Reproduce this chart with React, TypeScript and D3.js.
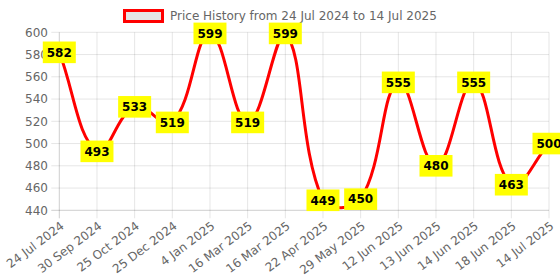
import React from 'react';
import * as d3 from 'd3';

const dates = [
  '24 Jul 2024', '30 Sep 2024', '25 Oct 2024', '25 Dec 2024', '4 Jan 2025',
  '16 Mar 2025', '16 Mar 2025', '22 Apr 2025', '29 May 2025', '12 Jun 2025',
  '13 Jun 2025', '14 Jun 2025', '18 Jun 2025', '14 Jul 2025',
];
const prices = [582, 493, 533, 519, 599, 519, 599, 449, 450, 555, 480, 555, 463, 500];
const yTicks = [440, 460, 480, 500, 520, 540, 560, 580, 600];
const legendText = 'Price History from 24 Jul 2024 to 14 Jul 2025';

const W = 560;
const H = 280;
const left = 59.3;
const right = 549;
const top = 32.3;
const bottom = 210.3;
const font = "'DejaVu Sans', sans-serif";
const grid = 'rgba(0,0,0,0.1)';

// chart.js style spline (tension 0.4, control points capped to the area)
function splinePath(pts: { x: number; y: number }[], t = 0.4) {
  const clampX = (v: number) => Math.max(left, Math.min(right, v));
  const clampY = (v: number) => Math.max(top, Math.min(bottom, v));
  const cps = pts.map((p, i) => {
    const prev = pts[i - 1] || p;
    const next = pts[i + 1] || p;
    const d01 = Math.hypot(p.x - prev.x, p.y - prev.y);
    const d12 = Math.hypot(next.x - p.x, next.y - p.y);
    let s01 = d01 / (d01 + d12);
    let s12 = d12 / (d01 + d12);
    if (isNaN(s01)) s01 = 0;
    if (isNaN(s12)) s12 = 0;
    const fa = t * s01;
    const fb = t * s12;
    return {
      c1x: clampX(p.x - fa * (next.x - prev.x)),
      c1y: clampY(p.y - fa * (next.y - prev.y)),
      c2x: clampX(p.x + fb * (next.x - prev.x)),
      c2y: clampY(p.y + fb * (next.y - prev.y)),
    };
  });
  const path = d3.path();
  pts.forEach((p, i) => {
    if (i === 0) path.moveTo(p.x, p.y);
    else {
      const a = cps[i - 1];
      const b = cps[i];
      path.bezierCurveTo(a.c2x, a.c2y, b.c1x, b.c1y, p.x, p.y);
    }
  });
  return path.toString();
}

export default function App() {
  const x = d3.scaleLinear().domain([0, dates.length - 1]).range([left, right]);
  const y = d3.scaleLinear().domain([440, 600]).range([bottom, top]);
  const pts = prices.map((v, i) => ({ x: x(i), y: y(v) }));

  return (
    <svg
      width={W}
      height={H}
      style={{ position: 'absolute', left: 0, top: 0, background: '#fff' }}
      fontFamily={font}
    >
      <defs>
        <clipPath id="area">
          <rect x={left - 1.5} y={top - 1.5} width={right - left + 3} height={bottom - top + 3} />
        </clipPath>
      </defs>

      {/* legend */}
      <rect x={124.5} y={10.5} width={38} height={11} fill="rgba(0,0,0,0.1)" stroke="#ff0000" strokeWidth={3} />
      <text x={170} y={16} dy="0.35em" fontSize={12} fill="#666">{legendText}</text>

      {/* grid */}
      {yTicks.map((t) => (
        <line key={'y' + t} x1={left - 8} x2={right} y1={y(t)} y2={y(t)} stroke={grid} />
      ))}
      {dates.map((_, i) => (
        <line key={'x' + i} x1={x(i)} x2={x(i)} y1={top} y2={bottom + 8} stroke={grid} />
      ))}
      <line x1={left} x2={left} y1={top} y2={bottom + 8} stroke={grid} />
      <line x1={left - 8} x2={right} y1={bottom} y2={bottom} stroke={grid} />

      {/* y ticks */}
      {yTicks.map((t) => (
        <text key={'yl' + t} x={48} y={y(t)} dy="0.35em" textAnchor="end" fontSize={12} fill="#666">
          {t}
        </text>
      ))}

      {/* x ticks */}
      {dates.map((d, i) => (
        <text
          key={'xl' + i}
          transform={`translate(${x(i) + 3},${bottom + 14}) rotate(-37)`}
          dy="0.35em"
          textAnchor="end"
          fontSize={12}
          fill="#666"
        >
          {d}
        </text>
      ))}

      {/* line */}
      <path d={splinePath(pts)} fill="none" stroke="#ff0000" strokeWidth={3} clipPath="url(#area)" />

      {/* data labels */}
      {pts.map((p, i) => (
        <g key={'dl' + i}>
          <rect x={p.x - 16.5} y={p.y - 10.8} width={33} height={21.6} fill="#ffff00" />
          <text x={p.x} y={p.y} dy="0.36em" textAnchor="middle" fontSize={12} fontWeight="bold" fill="#000">
            {prices[i]}
          </text>
        </g>
      ))}
    </svg>
  );
}
